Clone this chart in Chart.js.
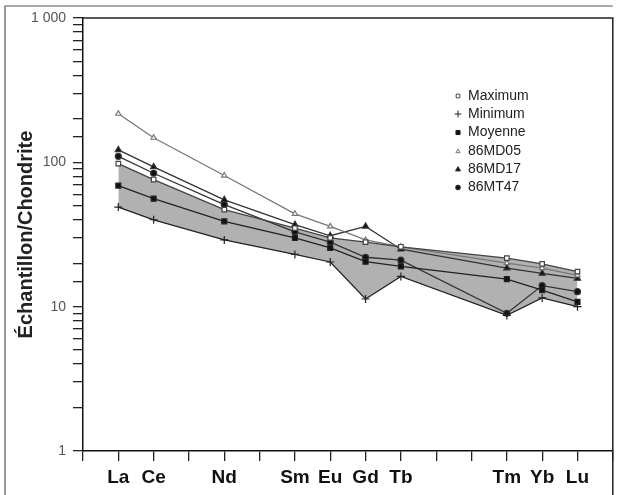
<!DOCTYPE html>
<html>
<head>
<meta charset="utf-8">
<script src="https://cdn.jsdelivr.net/npm/chart.js@4.4.0/dist/chart.umd.min.js"></script>
<style>
  html, body { margin: 0; padding: 0; background: #fff; }
  #wrap { width: 618px; height: 495px; position: relative; }
</style>
</head>
<body>
<div id="wrap"><canvas id="c" width="618" height="495"></canvas></div>
<script>
// Element positions on the x axis (index), and their labels
const elements = ['La', 'Ce', 'Nd', 'Sm', 'Eu', 'Gd', 'Tb', 'Tm', 'Yb', 'Lu'];
const positions = [1, 2, 4, 6, 7, 8, 9, 12, 13, 14];
const yTickLabels = { 1: '1', 10: '10', 100: '100', 1000: '1 000' };

// Chondrite-normalised values
const maximum = [98, 76, 47, 35, 30, 28, 26, 21.7, 19.8, 17.5];
const minimum = [49, 40, 29, 23, 20.4, 11.3, 16.2, 8.7, 11.5, 10];
const moyenne = [69, 56, 39, 30, 25.5, 20.5, 19, 15.5, 13, 10.8];
const md05 = [217, 148, 81, 44, 36, 29, 26, 20, 18.5, 16.5];
const md17 = [122, 93, 55, 37, 31, 36, 25, 18.5, 17, 15.7];
const mt47 = [110, 84, 51, 33, 28, 22, 21, 9, 14, 12.7];

function pts(values) {
    return values.map((v, i) => ({ x: positions[i], y: v }));
}

const series = [
    { label: 'Maximum', data: maximum, style: 'rect', fill: '#fff', color: '#444', r: 3.2 },
    { label: 'Minimum', data: minimum, style: 'cross', fill: '#222', color: '#222', r: 4 },
    { label: 'Moyenne', data: moyenne, style: 'rect', fill: '#111', color: '#222', r: 3.5 },
    { label: '86MD05', data: md05, style: 'triangle', fill: '#fff', color: '#777', r: 3 },
    { label: '86MD17', data: md17, style: 'triangle', fill: '#111', color: '#333', r: 3.5 },
    { label: '86MT47', data: mt47, style: 'circle', fill: '#111', color: '#333', r: 3 }
];

const datasets = series.map((s, i) => ({
    label: s.label,
    data: pts(s.data),
    borderColor: s.color,
    borderWidth: 1.3,
    backgroundColor: 'rgba(125,125,125,0.6)',
    pointStyle: s.style,
    pointRadius: s.r,
    pointBackgroundColor: s.fill,
    pointBorderColor: s.color,
    pointBorderWidth: 1.2,
    tension: 0,
    fill: i === 0 ? 1 : false // shade between Maximum and Minimum
}));

// legend drawn inside the plot, plus the frame lines
const extras = {
    id: 'extras',
    afterDraw(chart) {
        const ctx = chart.ctx;
        const a = chart.chartArea;
        ctx.save();
        ctx.strokeStyle = '#222';
        ctx.lineWidth = 1.5;
        ctx.beginPath();
        ctx.moveTo(a.left, a.top);
        ctx.lineTo(a.right, a.top);
        ctx.lineTo(a.right, 495);
        ctx.stroke();
        // outer frame
        ctx.strokeStyle = '#555';
        ctx.lineWidth = 1.2;
        ctx.beginPath();
        ctx.moveTo(5, 495);
        ctx.lineTo(5, 6);
        ctx.lineTo(a.right, 6);
        ctx.stroke();

        // legend
        const rowsY = [96, 114, 132.5, 151.5, 169.5, 187.5];
        ctx.font = '14px "Liberation Sans", Arial, sans-serif';
        ctx.textBaseline = 'middle';
        ctx.textAlign = 'left';
        series.forEach((s, i) => {
            const y = rowsY[i];
            ctx.fillStyle = s.fill;
            ctx.strokeStyle = s.color;
            ctx.lineWidth = 1;
            Chart.helpers.drawPoint(ctx, {
                pointStyle: s.style,
                radius: Math.max(2.4, s.r - 0.6),
                borderWidth: 1,
                rotation: 0
            }, 458, y);
            ctx.fillStyle = '#222';
            ctx.fillText(s.label, 468, y);
        });
        ctx.restore();
    }
};

new Chart(document.getElementById('c'), {
    type: 'line',
    data: { datasets },
    options: {
        responsive: false,
        animation: false,
        layout: { padding: { left: 0, right: 5, top: 18, bottom: 0 } },
        plugins: {
            legend: { display: false },
            tooltip: { enabled: false },
            filler: { drawTime: 'beforeDatasetsDraw' }
        },
        scales: {
            x: {
                type: 'linear',
                min: 0,
                max: 15,
                afterFit(scale) { scale.height = 44; },
                border: { display: true, color: '#111', width: 1.5 },
                grid: { drawOnChartArea: false, drawTicks: true, tickLength: 10, color: '#222', lineWidth: 1.3 },
                ticks: {
                    stepSize: 1,
                    autoSkip: false,
                    maxRotation: 0,
                    padding: 5,
                    color: '#111',
                    font: { family: '"Liberation Sans", Arial, sans-serif', size: 19, weight: 'bold' },
                    callback: function (value) {
                        const k = positions.indexOf(value);
                        return k >= 0 ? elements[k] : '';
                    }
                }
            },
            y: {
                type: 'logarithmic',
                min: 1,
                max: 1000,
                afterFit(scale) { scale.width = 83; },
                border: { display: true, color: '#111', width: 1.5 },
                grid: { drawOnChartArea: false, drawTicks: true, tickLength: 10, color: '#222', lineWidth: 1.3 },
                title: {
                    display: true,
                    text: 'Échantillon/Chondrite',
                    color: '#222',
                    padding: { top: 14, bottom: 0 },
                    font: { family: '"Liberation Sans", Arial, sans-serif', size: 20, weight: 'bold' }
                },
                ticks: {
                    autoSkip: false,
                    padding: 7,
                    color: '#555',
                    font: { family: '"Liberation Sans", Arial, sans-serif', size: 14 },
                    callback: function (value) {
                        return yTickLabels[value] || '';
                    }
                }
            }
        }
    },
    plugins: [extras]
});
</script>
</body>
</html>
